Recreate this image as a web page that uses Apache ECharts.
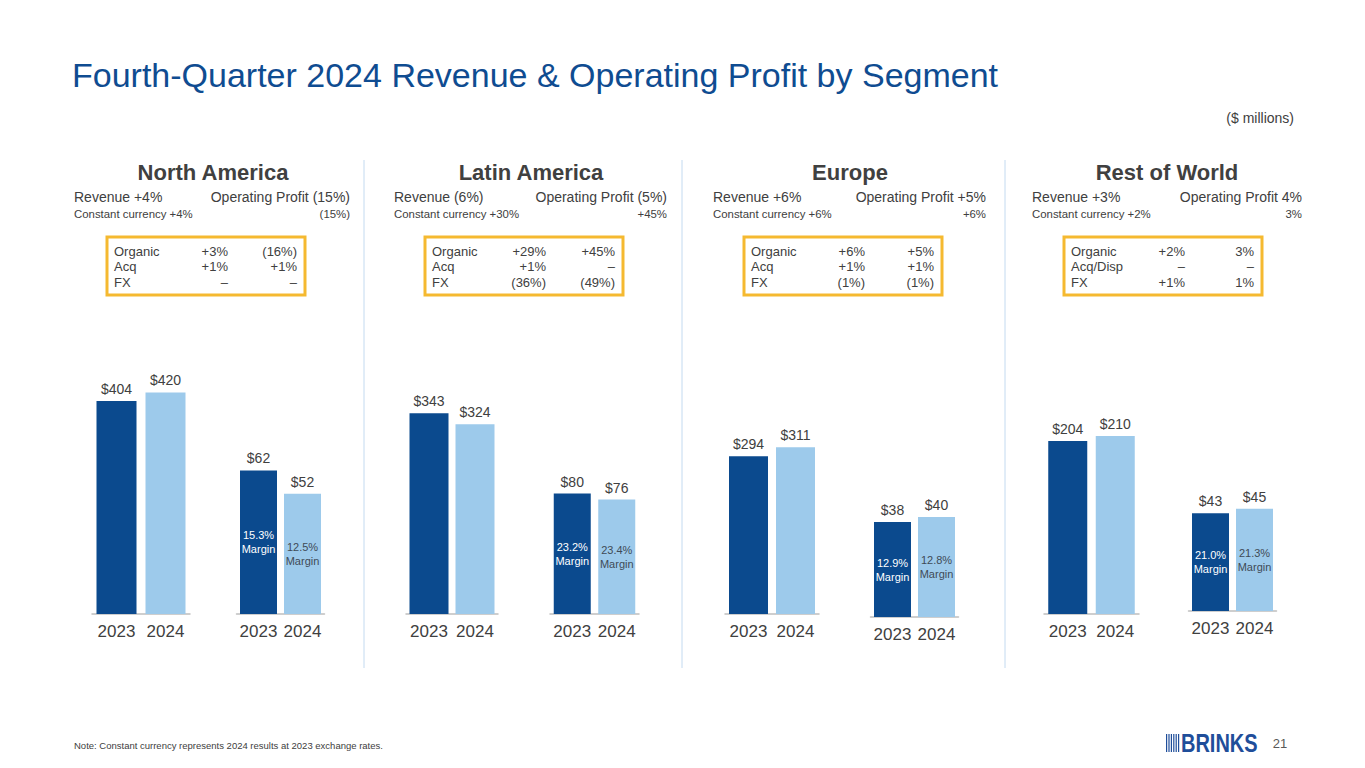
<!DOCTYPE html>
<html>
<head>
  <meta charset="utf-8">
  <title>Fourth-Quarter 2024 Revenue & Operating Profit by Segment</title>
  <script src="https://cdn.jsdelivr.net/npm/echarts@6/dist/echarts.min.js"></script>
  <style>
    body { margin: 0; padding: 0; background: #fff; }
    #main { width: 1365px; height: 768px; }
  </style>
</head>
<body>
<div id="main"></div>
<script>
  // data
  var segments = ['North America', 'Latin America', 'Europe', 'Rest of World'];
  var years = ['2023', '2024'];
  var revenue2023 = [404, 343, 294, 204];
  var revenue2024 = [420, 324, 311, 210];
  var opProfit2023 = [62, 80, 38, 43];
  var opProfit2024 = [52, 76, 40, 45];
  var margin2023 = ['15.3%', '23.2%', '12.9%', '21.0%'];
  var margin2024 = ['12.5%', '23.4%', '12.8%', '21.3%'];
  var revenueChange = ['+4%', '(6%)', '+6%', '+3%'];
  var opProfitChange = ['(15%)', '(5%)', '+5%', '4%'];
  var ccRevenue = ['+4%', '+30%', '+6%', '+2%'];
  var ccOpProfit = ['(15%)', '+45%', '+6%', '3%'];
  var bridgeRows = [
    ['Organic', 'Acq', 'FX'],
    ['Organic', 'Acq', 'FX'],
    ['Organic', 'Acq', 'FX'],
    ['Organic', 'Acq/Disp', 'FX']
  ];
  var bridgeRevenue = [
    ['+3%', '+1%', '–'],
    ['+29%', '+1%', '(36%)'],
    ['+6%', '+1%', '(1%)'],
    ['+2%', '–', '+1%']
  ];
  var bridgeOpProfit = [
    ['(16%)', '+1%', '–'],
    ['+45%', '–', '(49%)'],
    ['+5%', '+1%', '(1%)'],
    ['3%', '–', '1%']
  ];

  // layout (each mini chart has its own scale on the slide)
  var FONT = '"Liberation Sans", Arial, sans-serif';
  var DARK = '#0B4A8E';
  var LIGHT = '#9DCAEB';
  var TEXT = '#404040';
  var GRID_H = 250;
  var revMax = [474, 427, 466, 295];
  var opMax = [108, 166, 100, 110];
  var panels = [
    { textLeft: 74, textRight: 350, center: 213, boxLeft: 107,
      rev: { left: 92, width: 98, bar: 40, base: 614 }, op: { left: 236.5, width: 88, bar: 37, base: 614 } },
    { textLeft: 394, textRight: 667, center: 531, boxLeft: 425,
      rev: { left: 406, width: 92, bar: 39, base: 614 }, op: { left: 550, width: 89, bar: 37, base: 614 } },
    { textLeft: 713, textRight: 986, center: 850, boxLeft: 744,
      rev: { left: 725, width: 94, bar: 39, base: 614 }, op: { left: 870.5, width: 88, bar: 37, base: 617 } },
    { textLeft: 1032, textRight: 1302, center: 1167, boxLeft: 1064,
      rev: { left: 1044, width: 95, bar: 39, base: 614 }, op: { left: 1188.5, width: 88, bar: 37, base: 611 } }
  ];
  var dividers = [364, 682, 1005];

  var myChart = echarts.init(document.getElementById('main'), null, { renderer: 'svg' });

  function txt(text, x, y, size, opts) {
    opts = opts || {};
    return {
      type: 'text',
      silent: true,
      scaleY: opts.scaleY || 1,
      originY: y,
      style: {
        text: text, x: x, y: y,
        fill: opts.color || TEXT,
        fontSize: size,
        fontFamily: FONT,
        fontWeight: opts.bold ? 'bold' : 'normal',
        align: opts.align || 'left',
        verticalAlign: 'middle'
      }
    };
  }

  var grids = [], xAxes = [], yAxes = [], series = [], graphics = [];

  segments.forEach(function (name, i) {
    var p = panels[i];
    [p.rev, p.op].forEach(function (g, k) {
      grids.push({ left: g.left, width: g.width, top: g.base - GRID_H, height: GRID_H });
      xAxes.push({
        type: 'category', gridIndex: 2 * i + k, data: years,
        axisTick: { show: false },
        axisLine: { lineStyle: { color: '#BFBFBF', width: 1.5 } },
        axisLabel: { interval: 0, hideOverlap: false, fontSize: 17, color: TEXT, fontFamily: FONT, margin: 9 }
      });
      yAxes.push({ type: 'value', gridIndex: 2 * i + k, min: 0, max: k === 0 ? revMax[i] : opMax[i], show: false });
    });

    var topLabel = {
      show: true, position: 'top', distance: 5, fontSize: 14, color: TEXT, fontFamily: FONT,
      formatter: function (d) { return '$' + d.value; }
    };
    series.push({
      name: name + ' revenue', type: 'bar', xAxisIndex: 2 * i, yAxisIndex: 2 * i,
      barWidth: p.rev.bar, label: topLabel,
      data: [
        { value: revenue2023[i], itemStyle: { color: DARK } },
        { value: revenue2024[i], itemStyle: { color: LIGHT } }
      ]
    });
    series.push({
      name: name + ' operating profit', type: 'bar', xAxisIndex: 2 * i + 1, yAxisIndex: 2 * i + 1,
      barWidth: p.op.bar, barGap: '-100%', label: topLabel,
      data: [
        { value: opProfit2023[i], itemStyle: { color: DARK } },
        { value: opProfit2024[i], itemStyle: { color: LIGHT } }
      ]
    });
    // transparent copy carrying the margin text inside the bars
    series.push({
      name: name + ' margin', type: 'bar', xAxisIndex: 2 * i + 1, yAxisIndex: 2 * i + 1,
      barWidth: p.op.bar, barGap: '-100%', silent: true,
      itemStyle: { color: 'rgba(0,0,0,0)' },
      label: {
        show: true, position: 'inside', fontSize: 11, lineHeight: 14, fontFamily: FONT,
        formatter: function (d) { return d.data.margin + '\nMargin'; }
      },
      data: [
        { value: opProfit2023[i], margin: margin2023[i], label: { color: '#ffffff' } },
        { value: opProfit2024[i], margin: margin2024[i], label: { color: '#3F4A57' } }
      ]
    });

    // panel header texts
    graphics.push(txt(name, p.center, 172, 22, { bold: true, align: 'center' }));
    graphics.push(txt('Revenue ' + revenueChange[i], p.textLeft, 197, 14));
    graphics.push(txt('Operating Profit ' + opProfitChange[i], p.textRight, 197, 14, { align: 'right' }));
    graphics.push(txt('Constant currency ' + ccRevenue[i], p.textLeft, 214, 11.4));
    graphics.push(txt(ccOpProfit[i], p.textRight, 214, 11.4, { align: 'right' }));

    // yellow bridge box
    graphics.push({
      type: 'rect', silent: true,
      shape: { x: p.boxLeft, y: 237, width: 198, height: 58 },
      style: { fill: 'none', stroke: '#F5B930', lineWidth: 3 }
    });
    bridgeRows[i].forEach(function (row, r) {
      var y = 251 + r * 15.5;
      graphics.push(txt(row, p.boxLeft + 7, y, 13));
      graphics.push(txt(bridgeRevenue[i][r], p.boxLeft + 121, y, 13, { align: 'right' }));
      graphics.push(txt(bridgeOpProfit[i][r], p.boxLeft + 190, y, 13, { align: 'right' }));
    });
  });

  dividers.forEach(function (x) {
    graphics.push({
      type: 'line', silent: true,
      shape: { x1: x, y1: 160, x2: x, y2: 668 },
      style: { stroke: '#C3DAF0', lineWidth: 1 }
    });
  });

  graphics.push(txt('Fourth-Quarter 2024 Revenue & Operating Profit by Segment', 72, 75, 34, { color: '#0F4C91' }));
  graphics.push(txt('($ millions)', 1294, 118, 14, { align: 'right' }));
  graphics.push(txt('Note: Constant currency represents 2024 results at 2023 exchange rates.', 74, 745, 9.5));
  graphics.push(txt('21', 1280, 743, 13, { align: 'center', color: '#595959' }));

  // Brink's logo: thin bars + word mark
  for (var b = 0; b < 6; b++) {
    graphics.push({
      type: 'rect', silent: true,
      shape: { x: 1166 + b * 2.4, y: 734, width: 1.2, height: 18 },
      style: { fill: '#1F4E9A' }
    });
  }
  graphics.push(txt('BRINKS', 1181, 743, 20, { bold: true, color: '#1F4E9A', scaleY: 1.3 }));

  var option = {
    animation: false,
    backgroundColor: '#ffffff',
    grid: grids,
    xAxis: xAxes,
    yAxis: yAxes,
    series: series,
    graphic: graphics
  };
  myChart.setOption(option);
  window.addEventListener('resize', function () {
    myChart.resize();
  });
</script>
</body>
</html>
